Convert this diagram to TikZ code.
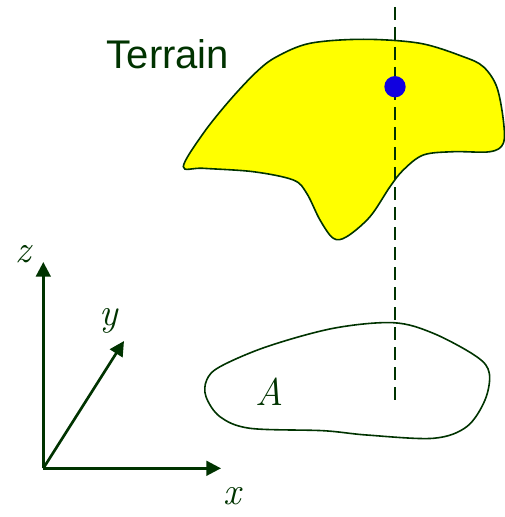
\documentclass[tikz,border=0pt]{standalone}
\usepackage{fontspec}
\newfontfamily\arialfont{Liberation Sans}
\usetikzlibrary{arrows.meta}
\definecolor{dkgreen}{RGB}{0,51,0}
\definecolor{terrainyellow}{RGB}{255,255,0}
\definecolor{dotblue}{RGB}{16,0,224}
\tikzset{
  outline/.style={draw=dkgreen, line width=1.2pt},
  axis/.style={draw=dkgreen, line width=2pt, -{Triangle[length=11pt,width=11pt]}},
  vline/.style={draw=dkgreen, line width=1.4pt, dash pattern=on 10pt off 5pt},
  axlabel/.style={text=dkgreen, font=\fontsize{29}{30}\selectfont\itshape, inner sep=0pt},
}
\begin{document}
\begin{tikzpicture}[x=0.75pt,y=-0.75pt]
\useasboundingbox (0,0) rectangle (505,517);
% terrain surface
\draw[outline, fill=terrainyellow] plot[smooth cycle, tension=0.55] coordinates {
 (183.3,166.7) (203.3,168.3) (253.3,171.7) (293.3,180) (306.7,193.3) (320,220)
 (333.3,238.3) (346.7,236.7) (370,216.7) (390,186.7) (403.3,170) (423.3,155)
 (453.3,151.7) (490,151.7) (503.3,143.3) (503.3,120) (496.7,86.7) (483.3,66.7)
 (463.3,56.7) (420,43.3) (363.3,39.3) (310,43.3) (276.7,56.7) (256.7,71.7)
 (230,100) (203.3,133.3)};
% region A
\draw[outline] plot[smooth cycle, tension=0.55] coordinates {
 (206.7,380) (220,366.7) (266.7,346.7) (333.3,328.3) (393.3,322.7) (433.3,333.3)
 (476.7,356.7) (489.3,373.3) (485,400) (466.7,426.7) (433.3,438.3) (366.7,435)
 (323.3,430.7) (250,428.3) (220,416.7) (206,396.7)};
% vertical line
\coordinate (vtop) at (395,7);
\coordinate (vbot) at (395,405);
\draw[vline] (vtop) -- (vbot);
% point
\fill[dotblue] (395,86.7) circle[radius=8pt];
\node[text=dkgreen, font=\arialfont\fontsize{30}{31}\selectfont, anchor=base west, inner sep=0pt] (terrain) at (106.5,68.3) {Terrain};
\node[axlabel] (alabel) at (270,392) {A};
% axes
\coordinate (o) at (43.3,468.3);
\coordinate (zt) at (43.3,262);
\coordinate (xt) at (221,468.3);
\coordinate (yt) at (124,341);
\draw[axis] (o) -- (zt);
\draw[axis] (o) -- (xt);
\draw[axis] (o) -- (yt);
\node[axlabel] (zl) at (23.5,254) {z};
\node[axlabel] (yl) at (108.5,321) {y};
\node[axlabel] (xl) at (232,496) {x};
\end{tikzpicture}
\end{document}
